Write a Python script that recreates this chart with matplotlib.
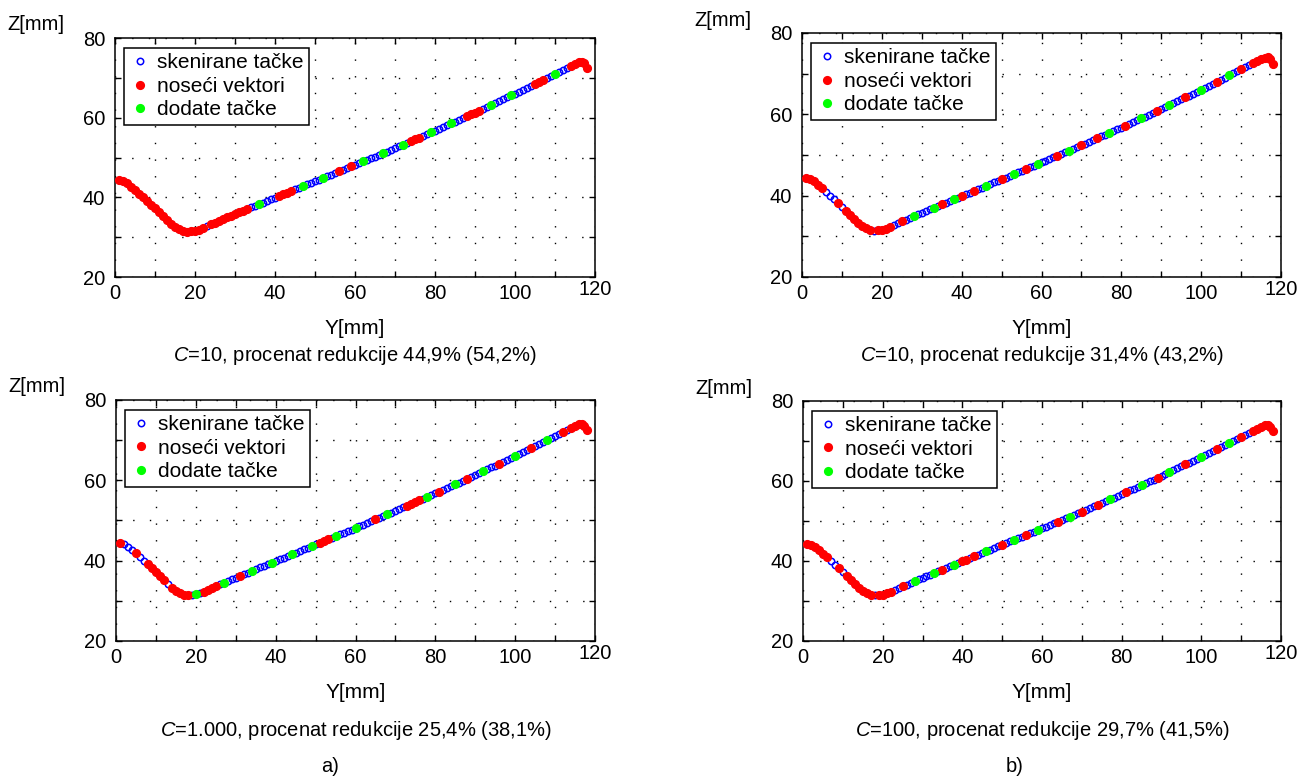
import matplotlib
matplotlib.use("Agg")
import matplotlib.pyplot as plt
from matplotlib.lines import Line2D
from matplotlib.transforms import ScaledTranslation

# ---------------------------------------------------------------- data
# scanned profile points (Y, Z) in mm
SCAN_Y = [1, 2, 3, 4, 5, 6, 7, 8, 9, 10, 11, 12, 13, 14, 15, 16, 17, 18, 19, 20,
          21, 22, 23, 24, 25, 26, 27, 28, 29, 30, 31, 32, 33, 34, 35, 36, 37, 38, 39, 40,
          41, 42, 43, 44, 45, 46, 47, 48, 49, 50, 51, 52, 53, 54, 55, 56, 57, 58, 59, 60,
          61, 62, 63, 64, 65, 66, 67, 68, 69, 70, 71, 72, 73, 74, 75, 76, 77, 78, 79, 80,
          81, 82, 83, 84, 85, 86, 87, 88, 89, 90, 91, 92, 93, 94, 95, 96, 97, 98, 99, 100,
          101, 102, 103, 104, 105, 106, 107, 108, 109, 110, 111, 112, 113, 114, 115, 116,
          116.7, 117.3, 117.9]
SCAN_Z = [44.3, 44.05, 43.5, 42.7, 41.8, 40.9, 40.0, 39.1, 38.2, 37.3,
          36.3, 35.2, 34.2, 33.3, 32.55, 31.95, 31.55, 31.4, 31.45, 31.6,
          31.9, 32.3, 32.75, 33.2, 33.65, 34.1, 34.55, 35.0, 35.4, 35.8,
          36.2, 36.6, 37.05, 37.45, 37.85, 38.3, 38.7, 39.1, 39.5, 39.95,
          40.35, 40.75, 41.15, 41.6, 42.0, 42.4, 42.8, 43.25, 43.65, 44.05,
          44.45, 44.9, 45.3, 45.7, 46.1, 46.55, 46.95, 47.35, 47.75, 48.2,
          48.6, 49.0, 49.4, 49.85, 50.25, 50.65, 51.05, 51.5, 51.9, 52.35,
          52.8, 53.25, 53.7, 54.1, 54.55, 55.0, 55.4, 55.85, 56.3, 56.75,
          57.2, 57.65, 58.1, 58.55, 59.0, 59.45, 59.9, 60.35, 60.8, 61.25,
          61.75, 62.2, 62.7, 63.2, 63.65, 64.15, 64.6, 65.1, 65.6, 66.05,
          66.55, 67.05, 67.55, 68.05, 68.55, 69.05, 69.55, 70.05, 70.55, 71.05,
          71.55, 72.05, 72.55, 73.0, 73.5, 73.95, 74.05, 73.6, 72.5]

# support vectors (Y positions of scanned points) for each case
SV_A1 = [1, 2, 3, 4, 5, 6, 7, 8, 9, 10, 11, 12, 13, 14, 15, 16, 17, 18, 19, 20, 21, 22,
         24, 25, 26, 27, 28, 29, 30, 31, 32, 33, 41, 42, 43, 44, 56, 59, 74, 75, 76,
         88, 89, 90, 91, 105, 106, 107, 114, 115, 116, 116.7, 117.3, 117.9]
SV_B1 = [1, 2, 3, 4, 5, 9, 11, 12, 13, 14, 15, 16, 17, 19, 20, 21, 22, 25, 35, 40, 43,
         50, 56, 64, 70, 74, 81, 89, 96, 104, 110, 113, 114, 115, 116, 116.7, 117.3, 117.9]
SV_A2 = [1, 5, 8, 9, 10, 11, 12, 14, 15, 16, 17, 18, 22, 23, 24, 25, 31, 51, 52, 53,
         65, 73, 74, 75, 76, 81, 88, 96, 104, 112, 114, 115, 116, 116.7, 117.3, 117.9]
SV_B2 = [1, 2, 3, 4, 5, 6, 9, 11, 12, 13, 14, 15, 16, 17, 19, 20, 21, 22, 25, 35, 40,
         41, 43, 50, 56, 64, 70, 74, 81, 89, 96, 104, 110, 113, 114, 115, 116, 116.7,
         117.3, 117.9]

# added points for each case
ADD_A1 = [36, 47, 52, 62, 67, 72, 79, 84, 94, 99, 110]
ADD_B1 = [28, 33, 38, 46, 53, 59, 67, 77, 85, 92, 100, 107]
ADD_A2 = [20, 27, 34, 39, 44, 49, 55, 60, 68, 78, 85, 92, 100, 108]
ADD_B2 = [28, 33, 38, 46, 53, 59, 67, 77, 85, 92, 100, 107]

CAPTIONS = [
    r"$\mathit{C}$=10, procenat redukcije 44,9% (54,2%)",
    r"$\mathit{C}$=10, procenat redukcije 31,4% (43,2%)",
    r"$\mathit{C}$=1.000, procenat redukcije 25,4% (38,1%)",
    r"$\mathit{C}$=100, procenat redukcije 29,7% (41,5%)",
]
LEGEND_LABELS = ["skenirane tačke", "noseći vektori", "dodate tačke"]
X_TICKS = [0, 10, 20, 30, 40, 50, 60, 70, 80, 90, 100, 110, 120]
Y_TICKS = [20, 30, 40, 50, 60, 70, 80]

# ---------------------------------------------------------------- style
plt.rcParams["font.family"] = ["Liberation Sans", "DejaVu Sans"]
plt.rcParams["mathtext.fontset"] = "custom"
plt.rcParams["mathtext.it"] = "Liberation Sans:italic"
plt.rcParams["mathtext.rm"] = "Liberation Sans"

W, H = 1304, 776
fig = plt.figure(figsize=(W / 100, H / 100), dpi=100)
fig.patch.set_facecolor("white")

Z_LOOKUP = dict(zip(SCAN_Y, SCAN_Z))


def px_axes(l, t, r, b):
    return fig.add_axes([l / W, 1 - b / H, (r - l) / W, (b - t) / H])


def ftext(x, y, s, **kw):
    fig.text(x / W, 1 - y / H, s, **kw)


# axes rectangles in pixels: left, top, right, bottom
RECTS = [(115, 38, 595, 277), (802, 33, 1281, 277),
         (116, 400, 595, 641), (803, 401, 1281, 641)]
SV_SETS = [SV_A1, SV_B1, SV_A2, SV_B2]
ADD_SETS = [ADD_A1, ADD_B1, ADD_A2, ADD_B2]
# vertical offsets (px below the axes) of the axis name and the caption
NAME_DY = [51, 51, 51, 51]
CAP_DY = [79, 79, 89, 89]

for i, (rect, sv, add, cap) in enumerate(zip(RECTS, SV_SETS, ADD_SETS, CAPTIONS)):
    l, t, r, b = rect
    ax = px_axes(l, t, r, b)
    ax.set_xlim(0, 120)
    ax.set_ylim(20, 80)
    ax.set_xticks(X_TICKS)
    ax.set_xticklabels([str(v) if v % 20 == 0 else "" for v in X_TICKS])
    ax.set_yticks(Y_TICKS)
    ax.set_yticklabels([str(v) if v % 20 == 0 else "" for v in Y_TICKS])
    ax.tick_params(direction="in", top=True, right=True, length=4, width=1.0,
                   labelsize=14.5, colors="black")
    ax.tick_params(axis="x", pad=5)
    ax.tick_params(axis="y", pad=7)
    for sp in ax.spines.values():
        sp.set_linewidth(1.1)
        sp.set_color("black")
    ax.grid(True, color="black", linestyle=(0, (1, 11)), linewidth=1.0)
    ax.set_axisbelow(True)

    # the last tick label sits slightly higher
    lbl = ax.get_xticklabels()[-1]
    lbl.set_transform(lbl.get_transform() + ScaledTranslation(0, 3 / 72, fig.dpi_scale_trans))

    ax.plot(SCAN_Y, SCAN_Z, "o", mfc="none", mec="#0000ff", ms=4.6, mew=1.1, zorder=3)
    ax.plot(sv, [Z_LOOKUP[y] for y in sv], "o", color="#ff0000", mec="#ff0000",
            ms=6.6, mew=0, zorder=4)
    ax.plot(add, [Z_LOOKUP[y] for y in add], "o", color="#00ff00", mec="#00ff00",
            ms=6.6, mew=0, zorder=5)

    handles = [
        Line2D([], [], linestyle="none", marker="o", mfc="none", mec="#0000ff", ms=4.6, mew=1.1),
        Line2D([], [], linestyle="none", marker="o", color="#ff0000", ms=6.6, mew=0),
        Line2D([], [], linestyle="none", marker="o", color="#00ff00", ms=6.6, mew=0),
    ]
    leg = ax.legend(handles, LEGEND_LABELS, loc="upper left",
                    bbox_to_anchor=(9 / (r - l), 1 - 10 / (b - t)), borderaxespad=0,
                    fontsize=15, frameon=True, fancybox=False, framealpha=1,
                    edgecolor="black", handlelength=1.0, handletextpad=0.35,
                    borderpad=0.25, labelspacing=0.22)
    leg.get_frame().set_linewidth(1.1)
    leg.set_zorder(10)

    cx = (l + r) / 2
    ftext(l - 108, t - 13, "Z[mm]", ha="left", va="center", fontsize=14.5)
    ftext(cx, b + NAME_DY[i], "Y[mm]", ha="center", va="center", fontsize=15)
    ftext(cx, b + CAP_DY[i], cap, ha="center", va="center", fontsize=14.5)

ftext(330, 767, "a)", ha="center", va="center", fontsize=14.5)
ftext(1015, 767, "b)", ha="center", va="center", fontsize=14.5)

fig.savefig("out.png", dpi=100, facecolor="white")
